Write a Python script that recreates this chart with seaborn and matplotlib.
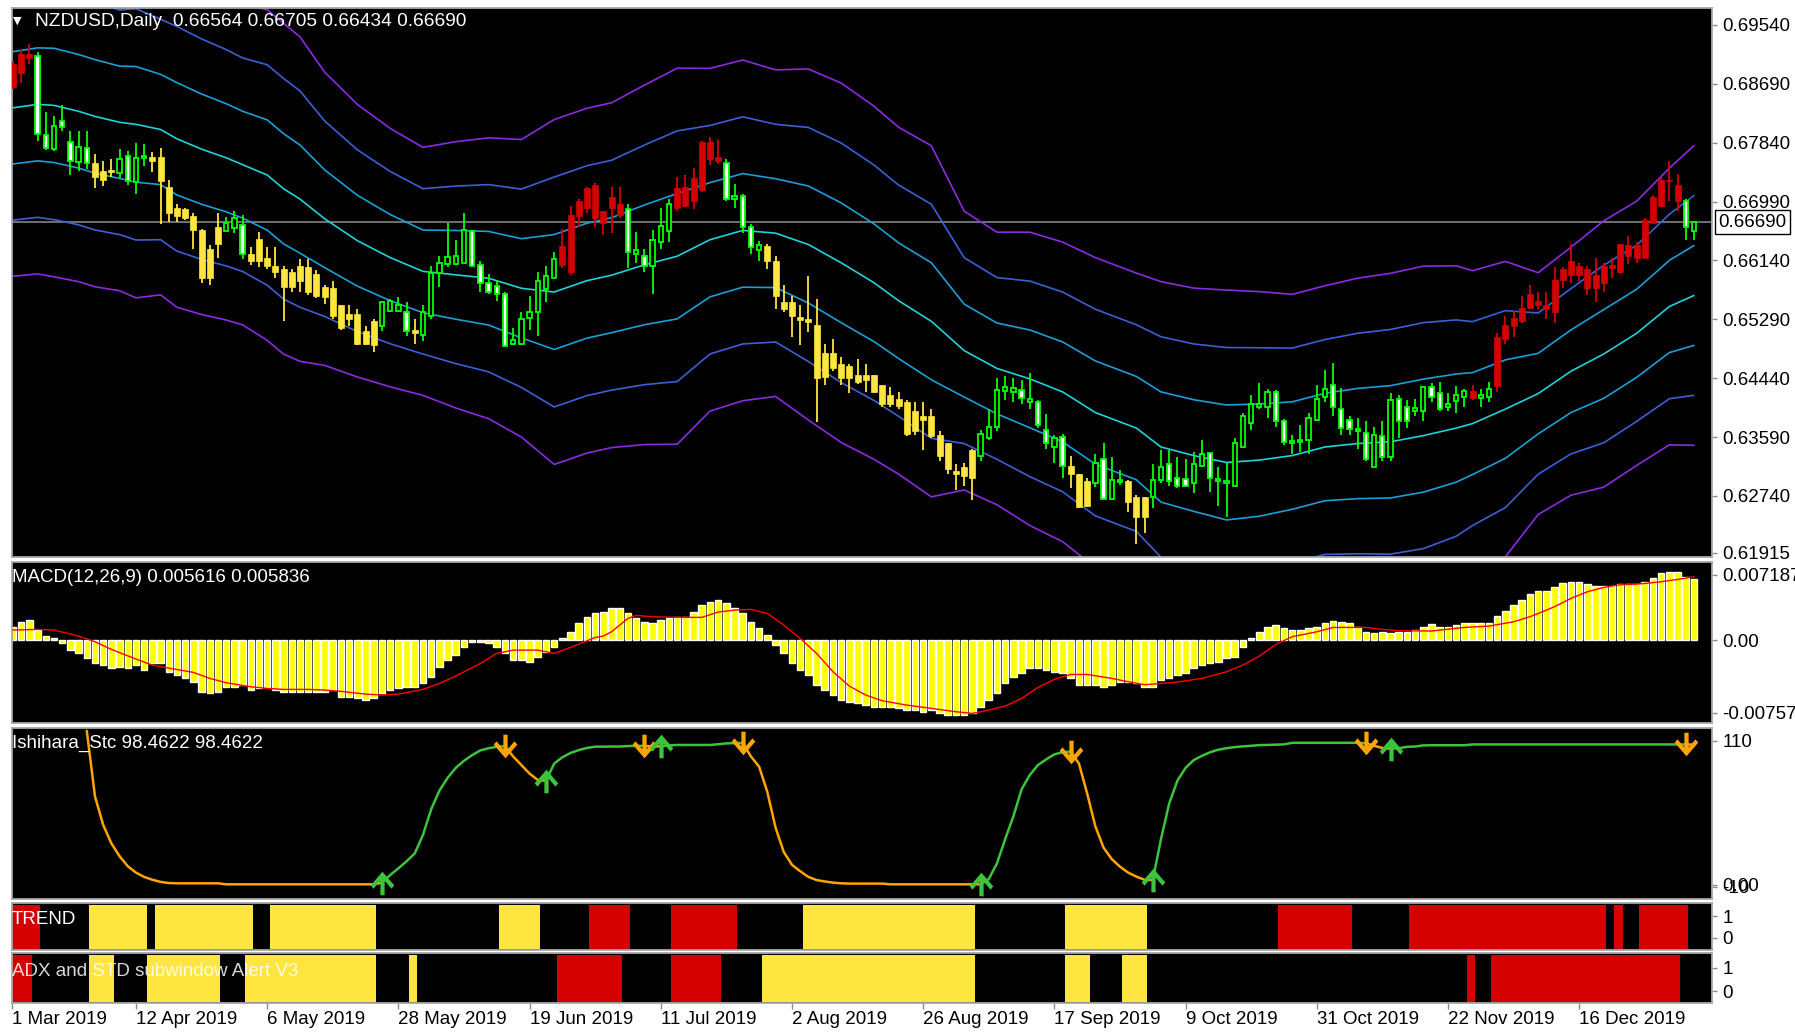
import numpy as np
import matplotlib
matplotlib.use("Agg")
import matplotlib.pyplot as plt
import seaborn as sns
from matplotlib.path import Path

# ---------------- data ----------------
# one value per bar (bar 0 = left edge of the chart)
open_ = [
    .6864, .6885, .6906, .6909, .6795, .6775, .6815, .6785, .6756, .6777,
    .6754, .6743, .6741, .6740, .6765, .6727, .6762, .6764, .6764, .6720,
    .6690, .6688, .6678, .6658, .6589, .6638, .6657, .6661, .6665, .6623,
    .6613, .6618, .6606, .6601, .6576, .6606, .6604, .6594, .6576, .6574,
    .6549, .6537, .6537, .6512, .6492, .6519, .6541, .6541, .6540, .6514,
    .6507, .6534, .6596, .6609, .6609, .6611, .6657, .6607, .6581, .6577,
    .6566, .6494, .6494, .6531, .6539, .6573, .6589, .6608, .6598, .6678,
    .6690, .6676, .6685, .6690, .6695, .6688, .6623, .6621, .6606, .6641,
    .6657, .6690, .6693, .6700, .6715, .6785, .6763, .6755, .6702, .6707,
    .6663, .6629, .6635, .6613, .6554, .6554, .6533, .6530, .6521, .6481,
    .6481, .6464, .6461, .6449, .6449, .6449, .6434, .6419, .6414, .6409,
    .6367, .6389, .6389, .6362, .6350, .6310, .6315, .6300, .6332, .6357,
    .6374, .6426, .6424, .6427, .6410, .6409, .6369, .6345, .6359, .6317,
    .6305, .6295, .6292, .6327, .6270, .6294, .6295, .6273, .6273, .6273,
    .6297, .6320, .6300, .6298, .6293, .6317, .6336, .6295, .6293, .6288,
    .6345, .6379, .6402, .6402, .6424, .6382, .6350, .6352, .6355, .6384,
    .6417, .6434, .6399, .6384, .6367, .6365, .6315, .6360, .6330, .6414,
    .6402, .6397, .6397, .6431, .6422, .6402, .6411, .6417, .6416, .6416,
    .6417, .6432, .6501, .6519, .6526, .6546, .6556, .6549, .6539, .6586,
    .6593, .6606, .6601, .6574, .6581, .6603, .6598, .6621, .6618, .6618,
    .6668, .6693, .6728, .6700, .6700, .66564,
]
high = [
    .6902, .6918, .6926, .6915, .6829, .6823, .6839, .6801, .6801, .6801,
    .6767, .6757, .6760, .6775, .6772, .6783, .6782, .6770, .6777, .6730,
    .6695, .6690, .6683, .6660, .6636, .6683, .6677, .6685, .6680, .6633,
    .6655, .6633, .6633, .6606, .6601, .6616, .6616, .6600, .6579, .6584,
    .6549, .6549, .6544, .6519, .6529, .6556, .6559, .6561, .6554, .6529,
    .6549, .6606, .6621, .6668, .6643, .6683, .6658, .6613, .6594, .6586,
    .6569, .6516, .6539, .6563, .6598, .6606, .6626, .6660, .6693, .6702,
    .6720, .6726, .6685, .6720, .6720, .6695, .6655, .6631, .6658, .6690,
    .6703, .6735, .6737, .6748, .6787, .6792, .6788, .6760, .6724, .6710,
    .6666, .6642, .6638, .6621, .6578, .6563, .6549, .6591, .6559, .6494,
    .6501, .6474, .6464, .6471, .6464, .6449, .6434, .6431, .6424, .6412,
    .6409, .6409, .6399, .6367, .6350, .6320, .6322, .6342, .6369, .6399,
    .6444, .6447, .6444, .6442, .6452, .6412, .6392, .6362, .6364, .6332,
    .6305, .6300, .6335, .6350, .6330, .6312, .6297, .6275, .6273, .6320,
    .6340, .6340, .6330, .6327, .6337, .6355, .6336, .6315, .6322, .6357,
    .6394, .6419, .6437, .6429, .6427, .6385, .6362, .6377, .6394, .6434,
    .6456, .6466, .6430, .6389, .6387, .6382, .6374, .6382, .6422, .6419,
    .6412, .6414, .6431, .6437, .6439, .6422, .6432, .6429, .6434, .6429,
    .6439, .6509, .6534, .6541, .6563, .6579, .6568, .6568, .6604, .6604,
    .6638, .6611, .6606, .6618, .6611, .6618, .6638, .6650, .6640, .6676,
    .6708, .6735, .6757, .6739, .6703, .66705,
]
low = [
    .6862, .6870, .6897, .6787, .6773, .6772, .6801, .6738, .6743, .6746,
    .6718, .6721, .6735, .6733, .6723, .6710, .6750, .6742, .6666, .6670,
    .6670, .6673, .6631, .6581, .6579, .6618, .6655, .6653, .6616, .6608,
    .6605, .6601, .6589, .6526, .6568, .6568, .6564, .6560, .6551, .6530,
    .6514, .6519, .6492, .6492, .6482, .6512, .6539, .6539, .6505, .6494,
    .6497, .6529, .6576, .6604, .6608, .6611, .6604, .6568, .6566, .6556,
    .6489, .6492, .6492, .6514, .6505, .6554, .6588, .6603, .6593, .6663,
    .6683, .6663, .6651, .6653, .6676, .6603, .6611, .6598, .6566, .6631,
    .6641, .6685, .6693, .6688, .6713, .6752, .6753, .6700, .6690, .6653,
    .6624, .6613, .6601, .6544, .6539, .6504, .6492, .6511, .6380, .6434,
    .6454, .6434, .6422, .6436, .6424, .6422, .6402, .6402, .6399, .6360,
    .6362, .6340, .6357, .6325, .6305, .6283, .6288, .6268, .6325, .6354,
    .6367, .6412, .6409, .6407, .6400, .6372, .6342, .6322, .6300, .6285,
    .6256, .6258, .6287, .6268, .6268, .6290, .6250, .6205, .6220, .6256,
    .6292, .6288, .6285, .6288, .6278, .6315, .6280, .6260, .6243, .6288,
    .6345, .6369, .6399, .6387, .6374, .6347, .6335, .6337, .6335, .6382,
    .6410, .6389, .6362, .6362, .6342, .6325, .6315, .6325, .6325, .6357,
    .6372, .6389, .6382, .6409, .6397, .6397, .6394, .6402, .6412, .6402,
    .6409, .6424, .6494, .6504, .6524, .6544, .6544, .6529, .6524, .6574,
    .6581, .6584, .6564, .6554, .6569, .6589, .6594, .6609, .6611, .6618,
    .6666, .6691, .6700, .6685, .6643, .66434,
]
close = [
    .6897, .6912, .6912, .6797, .6776, .6808, .6807, .6757, .6778, .6754,
    .6735, .6730, .6745, .6761, .6728, .6762, .6765, .6758, .6728, .6683,
    .6678, .6676, .6658, .6589, .6631, .6663, .6668, .6676, .6624, .6613,
    .6645, .6606, .6598, .6576, .6598, .6585, .6569, .6563, .6561, .6534,
    .6517, .6529, .6494, .6494, .6526, .6554, .6556, .6549, .6512, .6509,
    .6539, .6596, .6611, .6619, .6621, .6658, .6606, .6582, .6568, .6566,
    .6490, .6499, .6529, .6539, .6584, .6591, .6616, .6635, .6680, .6700,
    .6718, .6723, .6668, .6705, .6680, .6626, .6629, .6606, .6644, .6664,
    .6695, .6718, .6720, .6733, .6785, .6760, .6758, .6703, .6707, .6663,
    .6633, .6637, .6613, .6563, .6544, .6534, .6528, .6525, .6444, .6446,
    .6459, .6444, .6444, .6439, .6442, .6424, .6407, .6407, .6404, .6364,
    .6397, .6384, .6360, .6332, .6313, .6305, .6302, .6340, .6364, .6374,
    .6427, .6431, .6430, .6416, .6414, .6377, .6350, .6357, .6317, .6305,
    .6258, .6260, .6322, .6270, .6297, .6297, .6265, .6243, .6243, .6297,
    .6315, .6296, .6288, .6288, .6320, .6335, .6300, .6298, .6295, .6350,
    .6389, .6407, .6406, .6424, .6382, .6352, .6353, .6355, .6387, .6414,
    .6428, .6402, .6372, .6370, .6370, .6327, .6362, .6330, .6412, .6382,
    .6382, .6401, .6431, .6417, .6399, .6406, .6419, .6426, .6425, .6419,
    .6429, .6504, .6521, .6531, .6546, .6566, .6549, .6544, .6586, .6601,
    .6613, .6593, .6574, .6593, .6606, .6608, .6638, .6636, .6636, .6673,
    .6705, .6730, .6730, .6723, .6663, .66690,
]

# ADX/STD state (paints the candles and fills the last subwindow): (first bar, last bar)
adx_red = [(0, 2), (67, 74), (81, 86), (178, 178), (181, 203)]
adx_yellow = [(10, 12), (17, 25), (29, 44), (49, 49), (92, 117), (129, 131), (136, 138)]
# TREND subwindow state
trend_red = [(0, 3), (71, 75), (81, 88), (155, 163), (171, 194), (196, 196), (199, 204)]
trend_yellow = [(10, 16), (18, 29), (32, 44), (60, 64), (97, 117), (129, 138)]

# band indicator: centre line and one-step width, sampled along the bars
band_bar = [0, 3, 5, 8, 10, 13, 15, 18, 20, 23, 26, 28, 31, 33, 35, 38, 42, 46, 50, 54,
            58, 62, 66, 70, 73, 77, 81, 85, 89, 93, 97, 101, 105, 108, 112, 116, 120, 124,
            128, 132, 137, 140, 144, 148, 152, 156, 160, 164, 168, 172, 176, 178, 182, 186,
            190, 194, 198, 202, 205]
band_mid = [0.68344, 0.68394, 0.68379, 0.68294, 0.68220, 0.68135, 0.68105, 0.68031, 0.67896,
            0.67747, 0.67623, 0.67523, 0.67374, 0.67175, 0.67026, 0.66743, 0.66425, 0.66181,
            0.65982, 0.65932, 0.65883, 0.65738, 0.65684, 0.65848, 0.65927, 0.66076, 0.66201,
            0.66439, 0.66574, 0.66534, 0.66370, 0.66106, 0.65818, 0.65559, 0.65261, 0.64838,
            0.64580, 0.64430, 0.64242, 0.63943, 0.63719, 0.63446, 0.63322, 0.63222, 0.63257,
            0.63322, 0.63446, 0.63496, 0.63521, 0.63610, 0.63719, 0.63784, 0.63993, 0.64217,
            0.64540, 0.64789, 0.65087, 0.65475, 0.65634]
band_dev = [0.00811, 0.00816, 0.00825, 0.00820, 0.00820, 0.00811, 0.00835, 0.00796, 0.00811,
            0.00796, 0.00781, 0.00771, 0.00796, 0.00796, 0.00781, 0.00706, 0.00656, 0.00622,
            0.00597, 0.00641, 0.00676, 0.00716, 0.00830, 0.00830, 0.00830, 0.00865, 0.00905,
            0.00825, 0.00820, 0.00786, 0.00845, 0.00865, 0.00850, 0.00835, 0.00845, 0.00671,
            0.00656, 0.00706, 0.00721, 0.00746, 0.00746, 0.00796, 0.00806, 0.00830, 0.00811,
            0.00776, 0.00776, 0.00796, 0.00811, 0.00816, 0.00781, 0.00736, 0.00711, 0.00582,
            0.00597, 0.00641, 0.00636, 0.00666, 0.00721]

# MACD(12,26,9): histogram per bar, signal line sampled
macd_hist = [
    0.00125, 0.00171, 0.00186, 0.00095, 0.00040, 0.00018, -0.00027, -0.00089, -0.00119, -0.00165,
    -0.00211, -0.00226, -0.00257, -0.00241, -0.00257, -0.00226, -0.00272, -0.00211, -0.00211, -0.00287,
    -0.00318, -0.00348, -0.00379, -0.00471, -0.00486, -0.00471, -0.00425, -0.00425, -0.00409, -0.00455,
    -0.00440, -0.00425, -0.00455, -0.00471, -0.00471, -0.00471, -0.00471, -0.00471, -0.00471, -0.00455,
    -0.00516, -0.00516, -0.00532, -0.00547, -0.00532, -0.00486, -0.00455, -0.00440, -0.00425, -0.00425,
    -0.00394, -0.00333, -0.00241, -0.00180, -0.00134, -0.00058, -0.00012, -0.00012, -0.00027, -0.00058,
    -0.00119, -0.00180, -0.00180, -0.00196, -0.00150, -0.00104, -0.00058, 0.00018, 0.00079, 0.00156,
    0.00217, 0.00247, 0.00263, 0.00293, 0.00293, 0.00247, 0.00202, 0.00171, 0.00156, 0.00186,
    0.00202, 0.00217, 0.00217, 0.00263, 0.00324, 0.00354, 0.00370, 0.00339, 0.00293, 0.00247,
    0.00171, 0.00110, 0.00049, -0.00043, -0.00119, -0.00211, -0.00272, -0.00318, -0.00409, -0.00455,
    -0.00501, -0.00547, -0.00562, -0.00577, -0.00593, -0.00608, -0.00608, -0.00608, -0.00623, -0.00639,
    -0.00639, -0.00654, -0.00639, -0.00669, -0.00684, -0.00684, -0.00684, -0.00669, -0.00608, -0.00547,
    -0.00486, -0.00394, -0.00333, -0.00302, -0.00257, -0.00257, -0.00272, -0.00287, -0.00302, -0.00348,
    -0.00409, -0.00409, -0.00409, -0.00425, -0.00409, -0.00379, -0.00379, -0.00394, -0.00425, -0.00425,
    -0.00364, -0.00348, -0.00318, -0.00302, -0.00257, -0.00226, -0.00211, -0.00196, -0.00165, -0.00150,
    -0.00058, 0.00018, 0.00079, 0.00125, 0.00141, 0.00110, 0.00095, 0.00095, 0.00110, 0.00125,
    0.00156, 0.00180, 0.00171, 0.00156, 0.00125, 0.00079, 0.00064, 0.00079, 0.00064, 0.00079,
    0.00079, 0.00095, 0.00125, 0.00150, 0.00125, 0.00125, 0.00141, 0.00162, 0.00162, 0.00162,
    0.00162, 0.00226, 0.00272, 0.00324, 0.00370, 0.00422, 0.00455, 0.00455, 0.00486, 0.00522,
    0.00535, 0.00535, 0.00519, 0.00501, 0.00498, 0.00498, 0.00516, 0.00516, 0.00516, 0.00532,
    0.00568, 0.00614, 0.00629, 0.00629, 0.00584, 0.005616,
]
signal_bar = [0, 3, 5, 8, 10, 12, 15, 17, 19, 22, 24, 26, 29, 31, 33, 36, 38, 40, 43, 45,
              47, 50, 52, 54, 57, 59, 61, 64, 66, 68, 71, 72, 73, 75, 76, 78, 81, 84, 86, 88,
              90, 92, 94, 96, 98, 100, 102, 104, 106, 109, 112, 115, 117, 119, 121, 123, 125,
              127, 129, 131, 134, 136, 138, 140, 142, 145, 148, 150, 152, 154, 156, 159, 161,
              163, 165, 167, 169, 173, 177, 180, 183, 185, 186, 188, 190, 192, 194, 196, 198,
              199, 201, 203, 205]
signal_val = [0.00095, 0.00101, 0.00095, 0.00040, -0.00012, -0.00082, -0.00171, -0.00226,
              -0.00254, -0.00293, -0.00348, -0.00388, -0.00425, -0.00440, -0.00449, -0.00449,
              -0.00455, -0.00467, -0.00492, -0.00501, -0.00492, -0.00449, -0.00394, -0.00327,
              -0.00211, -0.00119, -0.00089, -0.00089, -0.00119, -0.00064, 0.00027, 0.00040,
              0.00079, 0.00202, 0.00229, 0.00217, 0.00211, 0.00211, 0.00260, 0.00278, 0.00284,
              0.00247, 0.00141, 0.00018, -0.00119, -0.00287, -0.00419, -0.00501, -0.00553,
              -0.00593, -0.00623, -0.00654, -0.00669, -0.00639, -0.00602, -0.00532, -0.00431,
              -0.00357, -0.00312, -0.00312, -0.00348, -0.00379, -0.00406, -0.00394, -0.00382,
              -0.00348, -0.00287, -0.00226, -0.00144, -0.00037, 0.00034, 0.00079, 0.00119,
              0.00119, 0.00119, 0.00101, 0.00089, 0.00086, 0.00119, 0.00131, 0.00171, 0.00217,
              0.00247, 0.00309, 0.00385, 0.00446, 0.00486, 0.00510, 0.00516, 0.00522, 0.00538,
              0.00559, 0.005836]

# Ishihara_Stc line, starting at bar 9, plus its signal arrows
stc_first_bar = 9
stc_val = [
    108, 62, 42, 29, 20, 13, 8.5, 5.5, 3.5, 2,
    1.2, 1.0, 1.0, 1.0, 1.0, 1.0, 1.0, 0.3, 0.3, 0.3,
    0.3, 0.3, 0.3, 0.3, 0.3, 0.3, 0.3, 0.3, 0.3, 0.3,
    0.3, 0.3, 0.3, 0.3, 0.3, 0.3, 1.5, 6.8, 11.5, 16.5,
    22, 35, 53, 66, 75, 82, 87, 91, 94.3, 95.8,
    96.8, 97.2, 90, 84, 78, 73.5, 73, 85, 89.5, 92.5,
    94.5, 96, 96.9, 96.9, 97, 97, 97.3, 97.5, 97.5, 97.0,
    97.2, 97.8, 98.1, 98.1, 98.1, 98.1, 98.1, 98.6, 99.2, 99.4,
    99.5, 90, 82.8, 65, 40, 23, 14, 9.5, 5.5, 3.3,
    2.3, 1.5, 1.0, 0.8, 0.8, 0.8, 0.8, 0.8, 0.3, 0.3,
    0.3, 0.3, 0.3, 0.3, 0.3, 0.3, 0.3, 0.3, 0.3, 0.3,
    4, 15, 32, 48, 67, 77, 84, 88, 91.5, 93,
    93.4, 85, 64, 41, 26, 18, 12.7, 8.5, 5.7, 3.5,
    3.3, 32, 57, 73, 82, 87.5, 90.5, 93, 94.8, 95.8,
    96.6, 97.1, 97.5, 98, 98.1, 98.3, 98.5, 99.6, 99.6, 99.6,
    99.6, 99.6, 99.6, 99.6, 99.6, 99.6, 99.3, 97.5, 96, 95.5,
    95.8, 96.8, 97, 97.8, 97.9, 97.9, 97.9, 97.9, 97.9, 98.46,
    98.46, 98.46, 98.46, 98.46, 98.46, 98.46, 98.46, 98.46, 98.46, 98.46,
    98.46, 98.46, 98.46, 98.46, 98.46, 98.46, 98.46, 98.46, 98.46, 98.46,
    98.46, 98.46, 98.46, 98.46, 98.46, 98.46, 98.46,
]
stc_up = [45, 65, 79, 118, 139, 168]
stc_down = [60, 77, 89, 129, 165, 204]

price_ticks = [0.69540, 0.68690, 0.67840, 0.66990, 0.66140, 0.65290, 0.64440, 0.63590,
               0.62740, 0.61915]
date_ticks = [-0.1, 15, 31, 47, 63, 79, 95, 111, 127, 143, 159, 175, 191]
date_labels = ["1 Mar 2019", "12 Apr 2019", "6 May 2019", "28 May 2019", "19 Jun 2019",
               "11 Jul 2019", "2 Aug 2019", "26 Aug 2019", "17 Sep 2019", "9 Oct 2019",
               "31 Oct 2019", "22 Nov 2019", "16 Dec 2019"]

# ---------------- colours ----------------
RED = "#D50000"
YELLOW = "#FFE53F"
GREEN = "#00FF00"
BAND_COLORS = {3: "#8A2BE2", 2: "#3D5FD6", 1: "#1C9ED8", 0: "#1FD3D8"}

# ---------------- figure ----------------
sns.set_style("dark")
plt.rcParams["font.family"] = ["Liberation Sans", "DejaVu Sans"]
FS = 13.5

W, H = 1795, 1032
fig = plt.figure(figsize=(W / 100, H / 100), dpi=100, facecolor="white")


def panel(top, bottom):
    ax = fig.add_axes([12 / W, 1 - bottom / H, 1700 / W, (bottom - top) / H])
    ax.set_facecolor("black")
    for sp in ax.spines.values():
        sp.set_color("#a8a8a8")
        sp.set_linewidth(1.3)
    ax.set_xlim(-0.12, 207.2)
    ax.yaxis.tick_right()
    ax.tick_params(axis="y", right=True, left=False, length=3.6, width=1, color="#8a8a8a",
                   pad=4, labelsize=FS, labelcolor="black")
    ax.tick_params(axis="x", bottom=False, labelbottom=False)
    ax.grid(False)
    return ax


ax_main = panel(8, 557)
ax_macd = panel(562, 723)
ax_stc = panel(728, 899)
ax_trend = panel(903, 950)
ax_adx = panel(953, 1003)

N = len(close)
bars = np.arange(N)


def expand(spans):
    return [b for a, e in spans for b in range(a, e + 1)]


# ---- main price panel ----
ax_main.set_ylim(0.618572, 0.697855)
mid = np.array(band_mid)
dev = np.array(band_dev)
for k in (3, 2, 1, 0, -1, -2, -3):
    sns.lineplot(x=band_bar, y=mid + k * dev, ax=ax_main, color=BAND_COLORS[abs(k)],
                 linewidth=1.2, legend=False, zorder=2)

ax_main.axhline(close[-1], color="#8f8f8f", linewidth=1.1, zorder=1)

o, h, l, c = (np.array(v) for v in (open_, high, low, close))
paint = np.array(["g"] * N)
paint[expand(adx_red)] = "r"
paint[expand(adx_yellow)] = "y"
wick_col = np.where(paint == "r", RED, np.where(paint == "y", YELLOW, GREEN))
ax_main.vlines(bars, l, h, colors=wick_col, linewidth=1.3, zorder=3)

body_lo = np.minimum(o, c)
body_h = np.maximum(np.abs(c - o), 0.00012)
painted = paint != "g"
ax_main.bar(bars[painted], body_h[painted], bottom=body_lo[painted], width=0.72,
            color=wick_col[painted], edgecolor=wick_col[painted], linewidth=0.5, zorder=4)
plain = ~painted
ax_main.bar(bars[plain], body_h[plain], bottom=body_lo[plain], width=0.52,
            color=np.where(c[plain] < o[plain], "white", "black"), edgecolor=GREEN,
            linewidth=1.3, zorder=4)

ax_main.set_yticks(price_ticks)
ax_main.set_yticklabels([f"{p:.5f}" for p in price_ticks])
ax_main.set_ylabel("")
ax_main.set_xlabel("")
ax_main.text(1.0 + 6 / 1700, close[-1], f"{close[-1]:.5f}", transform=ax_main.get_yaxis_transform(),
             ha="left", va="center", fontsize=FS, color="black", clip_on=False,
             bbox=dict(boxstyle="square,pad=0.18", fc="white", ec="black", lw=1))

# ---- MACD ----
ax_macd.set_ylim(-0.00757, 0.007187)
ax_macd.bar(bars, macd_hist, width=0.8, color="#FFFF00", zorder=2)
sns.lineplot(x=signal_bar, y=signal_val, ax=ax_macd, color="#FF0000", linewidth=1.0,
             legend=False, zorder=3)
# MT4 pulls the scale labels of a subwindow inside its frame
ax_macd.set_yticks([0.0060, 0.0, -0.00665])
ax_macd.set_yticklabels(["0.007187", "0.00", "-0.00757"])

# ---- Ishihara Stc ----
ax_stc.set_ylim(-10, 110)
stc_x = np.arange(stc_first_bar, stc_first_bar + len(stc_val))
stc_y = np.array(stc_val)
events = sorted([(b, "#3CC43C") for b in stc_up] + [(b, "#FFA500") for b in stc_down])
starts = [stc_first_bar] + [b for b, _ in events]
ends = [b for b, _ in events] + [stc_x[-1]]
cols = ["#FFA500"] + [col for _, col in events]
for s, e, col in zip(starts, ends, cols):
    if e <= s:
        continue
    sl = slice(s - stc_first_bar, e - stc_first_bar + 1)
    sns.lineplot(x=stc_x[sl], y=stc_y[sl], ax=ax_stc, color=col, linewidth=1.8,
                 legend=False, zorder=2)

arrow_down = Path([(-0.09, 0.5), (0.09, 0.5), (0.09, -0.12), (0.38, 0.22), (0.5, 0.08),
                   (0.0, -0.5), (-0.5, 0.08), (-0.38, 0.22), (-0.09, -0.12), (-0.09, 0.5)],
                  closed=True)
arrow_up = Path([(x, -y) for x, y in arrow_down.vertices], closed=True)
ax_stc.plot(stc_down, stc_y[np.array(stc_down) - stc_first_bar], linestyle="none",
            marker=arrow_down, markersize=17, color="#FFA500", markeredgewidth=0, zorder=4)
ax_stc.plot(stc_up, stc_y[np.array(stc_up) - stc_first_bar], linestyle="none",
            marker=arrow_up, markersize=17, color="#3CC43C", markeredgewidth=0, zorder=4)
ax_stc.set_yticks([101, 0, -1.5])
ax_stc.set_yticklabels(["110", "0.00", "-10"])

# ---- TREND and ADX subwindows ----
for ax, red_spans, yel_spans, lims in ((ax_trend, trend_red, trend_yellow, (-0.55, 1.6)),
                                        (ax_adx, adx_red, adx_yellow, (-0.52, 1.65))):
    ax.set_ylim(*lims)
    lo = lims[0] + 0.05
    span = lims[1] - lims[0] - 0.13
    for spans, col in ((red_spans, RED), (yel_spans, YELLOW)):
        xs = np.array(expand(spans)) - 0.2
        ax.bar(xs, span, bottom=lo, width=1.0, color=col, linewidth=0, zorder=2)
    ax.set_yticks([1, 0])
    ax.set_yticklabels(["1", "0"])

# date axis
ax_adx.tick_params(axis="x", bottom=True, labelbottom=True, length=4, width=1,
                   color="#8a8a8a", pad=2, labelsize=FS, labelcolor="black")
ax_adx.set_xticks(date_ticks)
ax_adx.set_xticklabels(date_labels, ha="left")


# ---- titles ----
def label(x, y, s, size=FS, **kw):
    fig.text(x / W, 1 - y / H, s, va="center", ha="left", fontsize=size, color="white", **kw)


label(13, 21, "\u25BC", size=8, family=["DejaVu Sans"])
label(35, 22, "NZDUSD,Daily  0.66564 0.66705 0.66434 0.66690", size=13.8)
label(12, 577, "MACD(12,26,9) 0.005616 0.005836")
label(12, 743, "Ishihara_Stc 98.4622 98.4622")
label(12, 919, "TREND")
label(12, 971, "ADX and STD subwindow Alert V3", alpha=0.85)

fig.savefig("out.png", dpi=100, facecolor="white")
